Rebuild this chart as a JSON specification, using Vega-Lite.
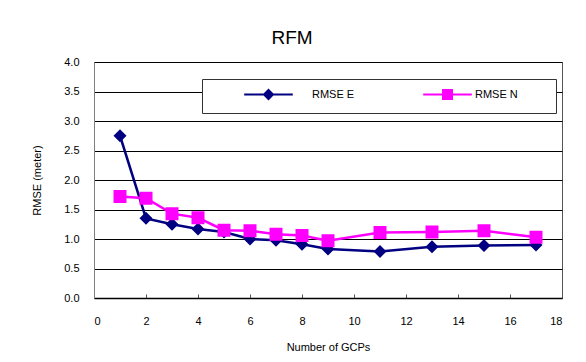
{
  "$schema": "https://vega.github.io/schema/vega-lite/v6.json",
  "width": 468,
  "height": 236,
  "autosize": {"type": "none"},
  "padding": {"left": 94, "top": 62, "right": 24, "bottom": 64},
  "background": "white",
  "config": {
    "font": "Liberation Sans",
    "view": {"stroke": "#555555", "strokeWidth": 1}
  },
  "title": {
    "text": "RFM",
    "fontSize": 19,
    "fontWeight": "normal",
    "color": "black",
    "font": "Liberation Sans",
    "dx": -36,
    "offset": 8
  },
  "data": {
    "values": [
      {"n": 1, "series": "RMSE E", "v": 2.75},
      {"n": 2, "series": "RMSE E", "v": 1.35},
      {"n": 3, "series": "RMSE E", "v": 1.25},
      {"n": 4, "series": "RMSE E", "v": 1.17},
      {"n": 5, "series": "RMSE E", "v": 1.12},
      {"n": 6, "series": "RMSE E", "v": 1.0},
      {"n": 7, "series": "RMSE E", "v": 0.98},
      {"n": 8, "series": "RMSE E", "v": 0.91},
      {"n": 9, "series": "RMSE E", "v": 0.83},
      {"n": 11, "series": "RMSE E", "v": 0.79},
      {"n": 13, "series": "RMSE E", "v": 0.87},
      {"n": 15, "series": "RMSE E", "v": 0.89},
      {"n": 17, "series": "RMSE E", "v": 0.9},
      {"n": 1, "series": "RMSE N", "v": 1.72},
      {"n": 2, "series": "RMSE N", "v": 1.69},
      {"n": 3, "series": "RMSE N", "v": 1.43},
      {"n": 4, "series": "RMSE N", "v": 1.36},
      {"n": 5, "series": "RMSE N", "v": 1.15},
      {"n": 6, "series": "RMSE N", "v": 1.14},
      {"n": 7, "series": "RMSE N", "v": 1.08},
      {"n": 8, "series": "RMSE N", "v": 1.06},
      {"n": 9, "series": "RMSE N", "v": 0.97},
      {"n": 11, "series": "RMSE N", "v": 1.11},
      {"n": 13, "series": "RMSE N", "v": 1.12},
      {"n": 15, "series": "RMSE N", "v": 1.14},
      {"n": 17, "series": "RMSE N", "v": 1.03}
    ]
  },
  "encoding": {
    "x": {
      "field": "n",
      "type": "quantitative",
      "scale": {"domain": [0, 18], "nice": false, "zero": false},
      "axis": {
        "title": "Number of GCPs",
        "values": [0, 2, 4, 6, 8, 10, 12, 14, 16, 18],
        "grid": false,
        "domainColor": "black",
        "domainWidth": 1.5,
        "tickColor": "#555555",
        "tickSize": -4,
        "labelPadding": 21,
        "labelFontSize": 11,
        "labelColor": "black",
        "titleFontSize": 11,
        "titleFontWeight": "normal",
        "titleColor": "black",
        "titlePadding": 15
      }
    },
    "y": {
      "field": "v",
      "type": "quantitative",
      "scale": {"domain": [0, 4], "nice": false},
      "axis": {
        "title": "RMSE (meter)",
        "values": [0, 0.5, 1, 1.5, 2, 2.5, 3, 3.5, 4],
        "format": ".1f",
        "grid": true,
        "gridColor": "black",
        "gridWidth": 1,
        "gridOpacity": 1,
        "ticks": false,
        "domainColor": "#808080",
        "labelPadding": 15,
        "labelFontSize": 11,
        "labelColor": "black",
        "titleFontSize": 11,
        "titleFontWeight": "normal",
        "titleColor": "black",
        "titlePadding": 21
      }
    },
    "color": {
      "field": "series",
      "type": "nominal",
      "scale": {"domain": ["RMSE E", "RMSE N"], "range": ["#000080", "#FF00FF"]},
      "legend": {
        "title": " ",
        "titleOrient": "right",
        "titlePadding": 28,
        "titleFontSize": 11,
        "orient": "none",
        "legendX": 108,
        "legendY": 17,
        "direction": "horizontal",
        "strokeColor": "#333333",
        "fillColor": "white",
        "padding": 10,
        "symbolSize": 81,
        "symbolStrokeWidth": 2,
        "symbolOffset": 51,
        "labelOffset": 38,
        "labelFontSize": 11,
        "labelColor": "black",
        "columnPadding": 36,
        "encode": {
          "labels": {"update": {"dx": {"signal": "datum.index === 1 ? -16 : 0"}}}
        }
      }
    }
  },
  "layer": [
    {
      "mark": {"type": "line", "strokeWidth": 2.5}
    },
    {
      "mark": {"type": "point", "filled": true, "opacity": 1, "size": 169, "strokeWidth": 0},
      "encoding": {
        "shape": {
          "field": "series",
          "type": "nominal",
          "scale": {
            "domain": ["RMSE E", "RMSE N"],
            "range": ["M-5.4,0H5.4M0,-1L1,0L0,1L-1,0Z", "M-5.4,0H5.4M-1,-1H1V1H-1Z"]
          },
          "legend": {
            "title": " ",
            "titleOrient": "right",
            "titlePadding": 28,
            "titleFontSize": 11,
            "orient": "none",
            "legendX": 108,
            "legendY": 17,
            "direction": "horizontal",
            "strokeColor": "#333333",
            "fillColor": "white",
            "padding": 10,
            "symbolSize": 81,
            "symbolStrokeWidth": 2,
            "symbolOffset": 51,
            "labelOffset": 38,
            "labelFontSize": 11,
            "labelColor": "black",
            "columnPadding": 36,
            "encode": {
              "labels": {"update": {"dx": {"signal": "datum.index === 1 ? -16 : 0"}}}
            }
          }
        }
      }
    }
  ]
}
